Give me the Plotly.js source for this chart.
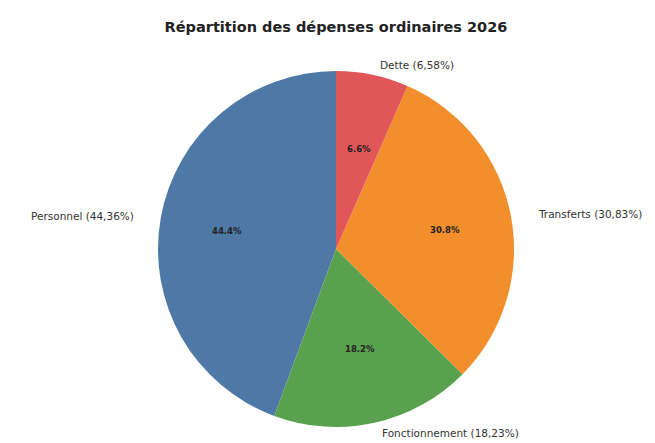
<!DOCTYPE html>
<html>
<head>
<meta charset="utf-8">
<script src="https://cdn.plot.ly/plotly-3.0.1.min.js"></script>
<style>html,body{margin:0;padding:0;background:#fff;}#chart{width:655px;height:443px;}</style>
</head>
<body>
<div id="chart"></div>
<script>
// Data
const categories = ["Personnel", "Fonctionnement", "Transferts", "Dette"];
const shares = [44.36, 18.23, 30.83, 6.58];
const outsideLabels = ["Personnel (44,36%)", "Fonctionnement (18,23%)", "Transferts (30,83%)", "Dette (6,58%)"];
const colors = ["#4e79a7", "#59a14f", "#f28e2b", "#e15759"];
const titleText = "Répartition des dépenses ordinaires 2026";

// Layout constants (pixels)
const W = 655, H = 443;
const cx = 336, cy = 249, r = 178;
const rxL = 185, ryL = 171; // label placement radii (reference is slightly stretched)

const total = shares.reduce((a, b) => a + b, 0);
const annotations = [];
let cum = 0;
shares.forEach((v, i) => {
  const frac = v / total;
  const mid = (90 + 360 * (cum + frac / 2)) * Math.PI / 180;
  cum += frac;
  const c = Math.cos(mid), s = Math.sin(mid);
  // outside label at 1.1 radius
  const ox = cx + 1.1 * rxL * c, oy = cy - 1.1 * ryL * s;
  annotations.push({
    xref: "paper", yref: "paper", x: ox / W, y: 1 - oy / H,
    xanchor: c > 0 ? "left" : "right", yanchor: "middle",
    text: outsideLabels[i], showarrow: false,
    font: {family: "DejaVu Sans", size: 10.5, color: "#333333"}
  });
  // inside percent at 0.6 radius
  const ix = cx + 0.6 * rxL * c, iy = cy - 0.6 * ryL * s;
  annotations.push({
    xref: "paper", yref: "paper", x: ix / W, y: 1 - iy / H,
    xanchor: "center", yanchor: "middle",
    text: "<b>" + (Math.round(frac * 1000) / 10).toFixed(1) + "%</b>", showarrow: false,
    font: {family: "DejaVu Sans", size: 8.5, color: "#222222"}
  });
});

const trace = {
  type: "pie",
  labels: categories,
  values: shares,
  sort: false,
  direction: "counterclockwise",
  // Plotly ends the first slice at 12 o'clock when counterclockwise; shift so it starts there (matplotlib startangle=90)
  rotation: -360 * shares[0] / total,
  marker: {colors: colors, line: {width: 0}},
  textinfo: "none",
  hoverinfo: "label+percent",
  domain: {x: [(cx - r) / W, (cx + r) / W], y: [1 - (cy + r) / H, 1 - (cy - r) / H]}
};

const layout = {
  width: W, height: H,
  margin: {l: 0, r: 0, t: 0, b: 0},
  showlegend: false,
  paper_bgcolor: "#ffffff",
  title: {
    text: "<b>" + titleText + "</b>",
    x: cx / W, y: 1 - 27 / H, xref: "paper", yref: "paper",
    xanchor: "center", yanchor: "middle",
    font: {family: "DejaVu Sans", size: 14.5, color: "#222222"}
  },
  annotations: annotations
};

Plotly.newPlot("chart", [trace], layout, {displayModeBar: false, staticPlot: true});
</script>
</body>
</html>
